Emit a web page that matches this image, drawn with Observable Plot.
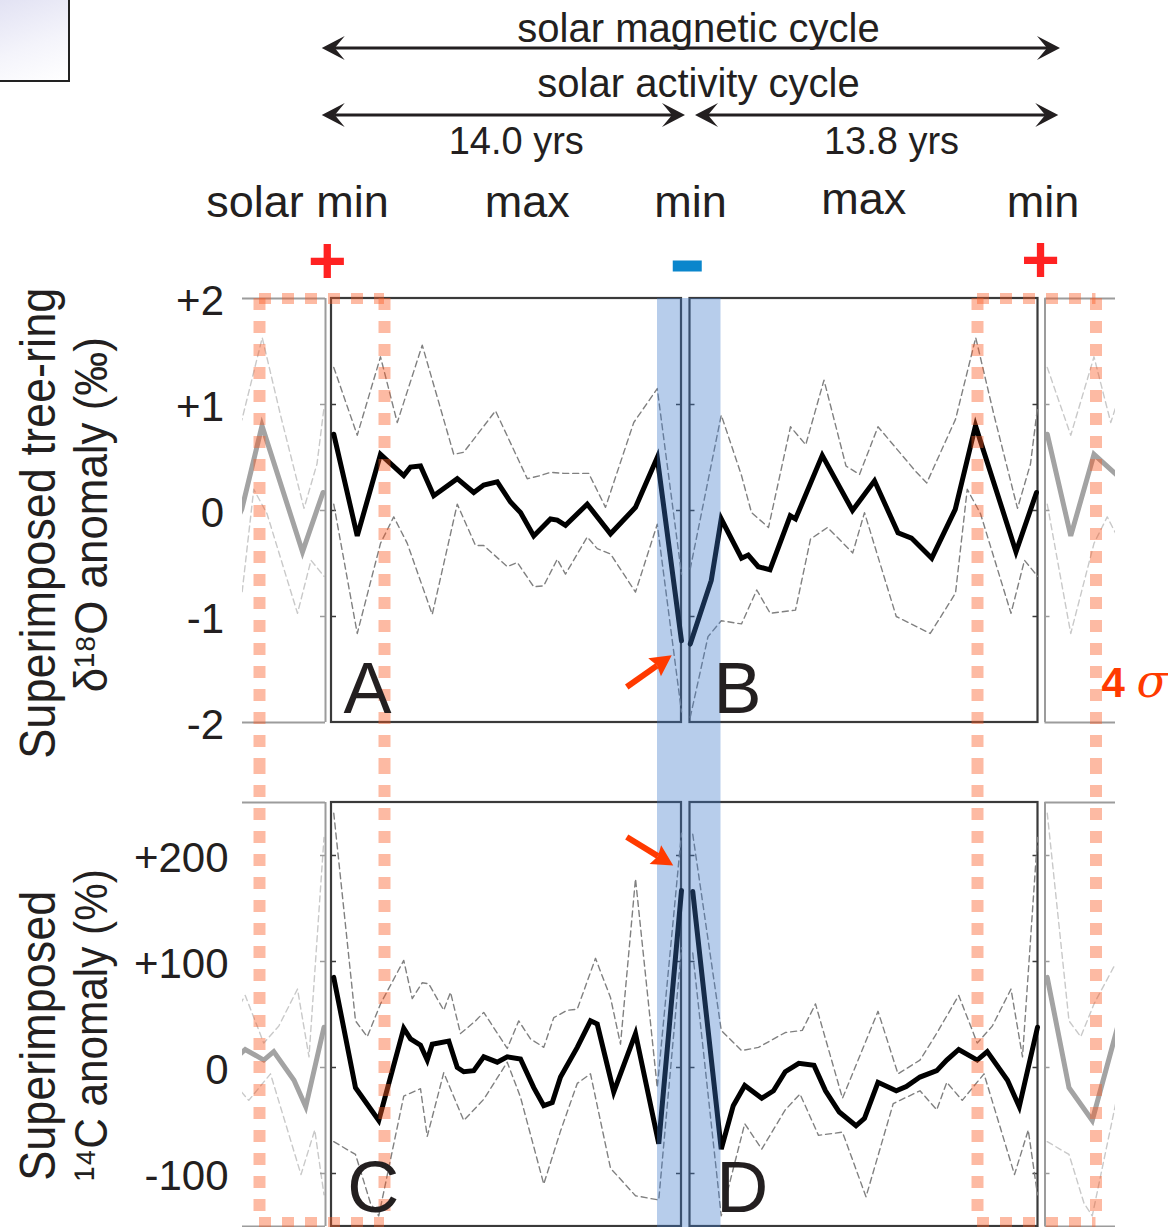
<!DOCTYPE html>
<html><head><meta charset="utf-8">
<script src="https://cdn.jsdelivr.net/npm/d3@7"></script>
<script src="https://cdn.jsdelivr.net/npm/@observablehq/plot@0.6"></script>
<style>
html,body{margin:0;padding:0;background:#fff;}
#fig{position:relative;width:1168px;height:1227px;overflow:hidden;background:#fff;}
#corner{position:absolute;left:-2px;top:-2px;width:68px;height:80px;border:2px solid #222;
  background:linear-gradient(160deg,#e2e2f3 0%,#f4f4fb 55%,#ffffff 100%);}
</style></head>
<body><div id="fig"><div id="corner"></div></div>
<script>
// ================= DATA (years after the first solar minimum) =================
// δ18O anomaly (‰) — cycle A
const o18A_meanYear  = [0.09, 1.03, 1.96, 2.89, 3.16, 3.56, 4.09, 5.03, 5.69, 6.09, 6.63, 7.16, 7.56, 8.09, 8.76, 9.03, 9.36, 10.23, 11.16, 12.16, 13.03, 14.0];
const o18A_mean      = [0.72, -0.24, 0.53, 0.33, 0.41, 0.42, 0.14, 0.30, 0.17, 0.24, 0.27, 0.08, -0.02, -0.24, -0.08, -0.09, -0.14, 0.06, -0.22, 0.03, 0.50, -1.23];
const o18A_upperYear = [0.09, 1.03, 1.96, 2.63, 3.63, 4.89, 5.29, 6.56, 7.83, 8.36, 8.76, 9.29, 10.29, 10.96, 12.09, 13.03, 14.0];
const o18A_upper     = [1.35, 0.71, 1.45, 0.83, 1.56, 0.53, 0.55, 0.94, 0.30, 0.33, 0.36, 0.35, 0.35, 0.03, 0.83, 1.15, -0.60];
const o18A_lowerYear = [0.09, 1.03, 1.96, 2.49, 3.03, 4.03, 5.03, 5.76, 6.09, 7.03, 7.43, 8.09, 8.49, 9.03, 9.36, 10.23, 10.63, 11.16, 12.16, 13.03, 14.0];
const o18A_lower     = [0.06, -1.16, -0.31, -0.06, -0.31, -0.98, 0.06, -0.33, -0.33, -0.53, -0.49, -0.72, -0.71, -0.46, -0.60, -0.25, -0.36, -0.41, -0.77, -0.13, -1.90];
// δ18O anomaly (‰) — cycle B
const o18B_meanYear  = [14.35, 15.19, 15.59, 16.40, 16.67, 17.07, 17.54, 18.35, 18.56, 19.63, 20.84, 21.72, 22.66, 23.20, 24.01, 24.95, 25.76, 27.38, 28.20];
const o18B_mean      = [-1.26, -0.66, -0.08, -0.45, -0.42, -0.53, -0.56, -0.05, -0.08, 0.52, 0.00, 0.28, -0.21, -0.26, -0.45, 0.01, 0.80, -0.39, 0.17];
const o18B_upperYear = [14.35, 15.59, 16.40, 16.80, 17.48, 18.36, 18.97, 19.70, 20.58, 21.12, 21.86, 23.40, 23.81, 24.96, 25.77, 26.49, 27.44, 27.96, 28.24];
const o18B_upper     = [-0.55, 0.90, 0.33, -0.02, -0.16, 0.79, 0.62, 1.23, 0.42, 0.34, 0.79, 0.36, 0.26, 0.86, 1.63, 0.91, 0.02, 0.44, 0.97];
const o18B_lowerYear = [14.35, 15.06, 15.59, 16.40, 17.01, 17.55, 18.56, 19.16, 19.84, 20.85, 21.32, 22.59, 23.95, 24.96, 25.43, 25.96, 27.18, 27.72, 28.24];
const o18B_lower     = [-1.95, -1.19, -1.04, -1.07, -0.75, -0.97, -0.94, -0.27, -0.16, -0.40, -0.02, -1.00, -1.16, -0.78, 0.20, -0.03, -0.97, -0.47, -0.62];

// 14C anomaly (%) — cycle A
const c14A_meanYear  = [0.09, 0.96, 1.89, 2.89, 3.16, 3.56, 3.83, 4.03, 4.69, 5.03, 5.29, 5.69, 6.09, 6.63, 7.03, 7.56, 8.09, 8.49, 8.83, 9.16, 9.83, 10.36, 10.63, 11.29, 12.16, 13.09, 14.0];
const c14A_mean      = [85, -19, -50, 37, 27, 21, 7, 22, 25, 0, -4, -3, 10, 5, 10, 8, -19, -36, -33, -9, 19, 44, 41, -23, 32, -72, 167];
const c14A_upperYear = [0.09, 0.96, 1.43, 1.96, 2.89, 3.23, 3.63, 3.89, 4.49, 4.76, 5.16, 5.76, 6.09, 7.03, 7.49, 7.96, 8.49, 8.89, 9.43, 9.83, 10.56, 11.16, 11.56, 12.16, 13.03, 14.0];
const c14A_upper     = [240, 44, 29, 60, 101, 65, 80, 79, 54, 71, 32, 44, 52, 18, 44, 27, 19, 47, 54, 55, 103, 66, 22, 178, -19, 221];
const c14A_lowerYear = [0.09, 0.96, 1.56, 1.89, 2.89, 3.56, 3.83, 4.49, 5.29, 6.09, 7.03, 7.56, 8.49, 9.16, 9.83, 10.36, 11.16, 12.16, 13.09, 14.0];
const c14A_lower     = [-70, -82, -128, -140, -27, -20, -65, -5, -50, -30, 5, -28, -110, -60, -15, -6, -95, -121, -125, 113];
// 14C anomaly (%) — cycle B
const c14B_meanYear  = [14.45, 15.59, 16.07, 16.53, 17.21, 17.68, 18.15, 18.69, 19.30, 19.76, 20.31, 20.98, 21.32, 21.86, 22.59, 22.99, 23.54, 24.21, 24.61, 25.09, 25.83, 26.23, 27.04, 27.51, 28.24];
const c14B_mean      = [166, -77, -36, -17, -29, -22, -4, 4, 2, -22, -42, -55, -48, -14, -22, -18, -9, -3, 7, 17, 7, 15, -12, -37, 38];
const c14B_upperYear = [14.45, 15.59, 16.40, 17.08, 18.15, 18.83, 19.36, 20.44, 21.86, 22.66, 23.54, 24.15, 25.09, 25.83, 26.43, 27.18, 27.64, 28.24];
const c14B_upper     = [220, 35, 16, 19, 33, 35, 60, -29, 53, -6, 7, 30, 68, 23, 39, 74, 10, 217];
const c14B_lowerYear = [14.45, 15.59, 16.53, 17.21, 18.15, 18.74, 19.48, 20.44, 21.38, 22.47, 23.54, 24.21, 24.61, 25.23, 26.10, 27.32, 27.87, 28.24];
const c14B_lower     = [108, -140, -53, -77, -40, -25, -64, -61, -122, -34, -22, -40, -14, -31, -6, -101, -59, -120];

// tick labels
const o18Ticks = [2, 1, 0, -1, -2];
const c14Ticks = [200, 100, 0, -100];
const fmtSigned = v => v > 0 ? "+" + v : String(v);

// cycle lengths and annotation texts
const cycleLabels   = ["solar magnetic cycle", "solar activity cycle"];
const lengthLabels  = ["14.0 yrs", "13.8 yrs"];
const phaseLabels   = ["solar min", "max", "min", "max", "min"];
const polarity      = ["+", "-", "+"];
const panelLetters  = [["A", "B"], ["C", "D"]];

// ================= LAYOUT (years on x) =================
const W = 1168, PX_PER_YEAR = 25, ORIGIN_PX = 331;
const X_DOMAIN = [-ORIGIN_PX / PX_PER_YEAR, (W - ORIGIN_PX) / PX_PER_YEAR];
const BOX_A = [0, 14.0], BOX_B = [14.34, 28.26];
const WRAP_LEFT = [-3.56, -0.24], WRAP_RIGHT = [28.54, 31.36], WRAP_SHIFT = 28.54;
const FOUR_SIGMA = [[-2.88, 2.12], [25.84, 30.58]];
const MIN_BAND = [13.04, 15.58];
const TICK_LEN = 0.2;
const FONT = "Liberation Sans, Arial, Helvetica, sans-serif";
const INK = "#231f20", FRAME = "#3a3a3a", GFRAME = "#9c9c9c";
const ORANGE = "rgb(250,90,35)", BLUE = "#3c78c8", RED = "#ff3a00";
const TITLE_LENGTHS = {"Superimposed tree-ring": 471, "δ¹⁸O anomaly (‰)": 355, "Superimposed": 290, "¹⁴C anomaly (%)": 312};

const zip = (xs, vs, shift = 0) => xs.map((x, i) => ({x: x + shift, v: vs[i]}));
const fig = document.getElementById("fig");
function mount(svg, top) {
  svg.style.position = "absolute"; svg.style.left = "0px"; svg.style.top = top + "px";
  svg.style.overflow = "visible"; svg.style.background = "none"; svg.style.maxWidth = "none";
  svg.querySelectorAll("text").forEach(t => {
    const L = TITLE_LENGTHS[t.textContent];
    if (L) { t.setAttribute("textLength", L); t.setAttribute("lengthAdjust", "spacingAndGlyphs"); }
  });
  fig.appendChild(svg);
}

// arrows with filled (barbed) heads, drawn through the plot's scales
function arrowMark(specs, {color, width, L, H, N, both}) {
  return (index, scales) => {
    const g = d3.create("svg:g");
    for (const s of specs) {
      const x1 = scales.x(s.x1), y1 = scales.y(s.y1), x2 = scales.x(s.x2), y2 = scales.y(s.y2);
      const len = Math.hypot(x2 - x1, y2 - y1), ux = (x2 - x1) / len, uy = (y2 - y1) / len;
      const nx = -uy, ny = ux;
      const head = (tx, ty, dx, dy) =>
        `M${tx},${ty}L${tx - dx * L + nx * H},${ty - dy * L + ny * H}L${tx - dx * N},${ty - dy * N}L${tx - dx * L - nx * H},${ty - dy * L - ny * H}Z`;
      const sx = both ? x1 + ux * N : x1, sy = both ? y1 + uy * N : y1;
      g.append("line").attr("x1", sx).attr("y1", sy).attr("x2", x2 - ux * N).attr("y2", y2 - uy * N)
        .attr("stroke", color).attr("stroke-width", width);
      g.append("path").attr("d", head(x2, y2, ux, uy)).attr("fill", color);
      if (both) g.append("path").attr("d", head(x1, y1, -ux, -uy)).attr("fill", color);
    }
    return g.node();
  };
}

// ================= HEADER =================
const header = Plot.plot({
  width: W, height: 280, margin: 0,
  x: {domain: X_DOMAIN, range: [0, W], axis: null},
  y: {domain: [0, 280], range: [0, 280], axis: null},
  marks: [
    arrowMark([{x1: -0.37, x2: 29.16, y1: 48, y2: 48}, {x1: -0.37, x2: 14.16, y1: 115, y2: 115}, {x1: 14.56, x2: 29.09, y1: 115, y2: 115}],
      {color: INK, width: 3, L: 23, H: 12, N: 13, both: true}),
    Plot.text(cycleLabels.map((t, i) => ({t, x: 14.68, y: [41.7, 96.7][i]})),
      {x: "x", y: "y", text: "t", fontSize: 40, fontFamily: FONT, fill: INK, lineAnchor: "bottom"}),
    Plot.text(lengthLabels.map((t, i) => ({t, x: [7.39, 22.4][i], y: 153.3})),
      {x: "x", y: "y", text: "t", fontSize: 38, fontFamily: FONT, fill: INK, lineAnchor: "bottom"}),
    Plot.text(phaseLabels.map((t, i) => ({t, x: [-1.36, 7.83, 14.36, 21.29, 28.46][i], y: [216.7, 216.7, 216.7, 213.3, 216.7][i]})),
      {x: "x", y: "y", text: "t", fontSize: 45, fontFamily: FONT, fill: INK, lineAnchor: "bottom"}),
    Plot.text(polarity.filter(p => p === "+").map((t, i) => ({t, x: [-0.17, 28.36][i], y: [282.4, 281.4][i]})),
      {x: "x", y: "y", text: "t", fontSize: 66, fontWeight: "bold", fontFamily: FONT, fill: "#ff2222", lineAnchor: "bottom"}),
    Plot.rect(polarity.filter(p => p === "-"), {x1: () => 13.67, x2: () => 14.83, y1: () => 260.5, y2: () => 271.5, fill: "#0a86cc"})
  ]
});
mount(header, 0);

// ================= PANELS =================
function panel(cfg) {
  const {top, height, yDomain, yRange, frameTop, frameBottom, A, B, ticks, tickLabelX, titles, letterY, extra} = cfg;
  const gray = (box, s, shift) => Plot.plot({
    width: W, height,
    marginLeft: ORIGIN_PX + box[0] * PX_PER_YEAR, marginRight: W - (ORIGIN_PX + box[1] * PX_PER_YEAR),
    marginTop: yRange[1], marginBottom: height - yRange[0],
    x: {domain: box, axis: null}, y: {domain: yDomain, axis: null},
    marks: [
      Plot.line(zip(s.upperYear, s.upper, shift), {x: "x", y: "v", stroke: "#c9c9c9", strokeWidth: 1.4, strokeDasharray: "6,4", clip: true}),
      Plot.line(zip(s.lowerYear, s.lower, shift), {x: "x", y: "v", stroke: "#c9c9c9", strokeWidth: 1.4, strokeDasharray: "6,4", clip: true}),
      Plot.line(zip(s.meanYear, s.mean, shift), {x: "x", y: "v", stroke: "#a3a3a3", strokeWidth: 5, strokeLinejoin: "miter", strokeMiterlimit: 4, clip: true})
    ]
  });
  mount(gray(WRAP_LEFT, B, -WRAP_SHIFT), top);
  mount(gray(WRAP_RIGHT, A, WRAP_SHIFT), top);

  const innerTicks = ticks.filter(v => v > yDomain[0] && v < yDomain[1]);
  const edges = [[BOX_A[0], 1], [BOX_A[1], -1], [BOX_B[0], 1], [BOX_B[1], -1]];
  const gEdges = [[WRAP_LEFT[1], -1], [WRAP_RIGHT[0], 1]];
  const seg = es => es.flatMap(([x, d]) => innerTicks.map(v => ({v, x1: x, x2: x + d * TICK_LEN})));
  const dashed = {x: "x", y: "v", stroke: "#808080", strokeWidth: 1.4, strokeDasharray: "6,4"};
  const mean = {x: "x", y: "v", stroke: "#000", strokeWidth: 5, strokeLinejoin: "miter", strokeMiterlimit: 4};

  const main = Plot.plot({
    width: W, height, marginLeft: 0, marginRight: 0, marginTop: frameTop, marginBottom: frameBottom,
    x: {domain: X_DOMAIN, range: [0, W], axis: null},
    y: {domain: yDomain, range: yRange, axis: null},
    marks: [
      // gray wrap-around boxes (open on the outer side)
      Plot.ruleY(yDomain, {y: d => d, x1: () => WRAP_LEFT[0], x2: () => WRAP_LEFT[1], stroke: GFRAME, strokeWidth: 2}),
      Plot.ruleX([WRAP_LEFT[1]], {x: d => d, y1: () => yDomain[0], y2: () => yDomain[1], stroke: GFRAME, strokeWidth: 2}),
      Plot.ruleY(yDomain, {y: d => d, x1: () => WRAP_RIGHT[0], x2: () => WRAP_RIGHT[1], stroke: GFRAME, strokeWidth: 2}),
      Plot.ruleX([WRAP_RIGHT[0]], {x: d => d, y1: () => yDomain[0], y2: () => yDomain[1], stroke: GFRAME, strokeWidth: 2}),
      Plot.ruleY(seg(gEdges), {y: "v", x1: "x1", x2: "x2", stroke: GFRAME, strokeWidth: 1.5}),
      // cycle boxes
      Plot.rect([BOX_A, BOX_B], {x1: d => d[0], x2: d => d[1], y1: () => yDomain[0], y2: () => yDomain[1], fill: "none", stroke: FRAME, strokeWidth: 2.2}),
      Plot.ruleY(seg(edges), {y: "v", x1: "x1", x2: "x2", stroke: FRAME, strokeWidth: 1.5}),
      // envelopes and superposed mean
      Plot.line(zip(A.upperYear, A.upper), dashed),
      Plot.line(zip(A.lowerYear, A.lower), dashed),
      Plot.line(zip(B.upperYear, B.upper), dashed),
      Plot.line(zip(B.lowerYear, B.lower), dashed),
      Plot.line(zip(A.meanYear, A.mean), mean),
      Plot.line(zip(B.meanYear, B.mean), mean),
      // tick labels
      Plot.text(ticks, {x: () => tickLabelX, y: d => d, text: fmtSigned, textAnchor: "end", dy: 3, fontSize: 42, fontFamily: FONT, fill: INK}),
      // axis titles (rotated)
      Plot.text(titles, {x: d => d.x, y: d => d.y, text: d => d.t, rotate: -90, lineAnchor: "bottom", textAnchor: "middle", fontSize: d => d.size, fontFamily: FONT, fill: INK}),
      // minimum band
      Plot.rect([MIN_BAND], {x1: d => d[0], x2: d => d[1], fill: BLUE, fillOpacity: 0.37, insetBottom: cfg.bandInsetBottom || 0}),
      // 4σ boxes
      Plot.ruleX(FOUR_SIGMA.flat(), {x: d => d, stroke: ORANGE, strokeOpacity: 0.42, strokeWidth: 12, strokeDasharray: "12,11"}),
      Plot.ruleY(FOUR_SIGMA, {y: () => cfg.sigmaEdgeY, x1: d => d[0], x2: d => d[1], stroke: ORANGE, strokeOpacity: 0.42, strokeWidth: 11, strokeDasharray: "12,11"}),
      // panel letters
      Plot.text(cfg.letters.map((t, i) => ({t, x: [cfg.letterX[0], cfg.letterX[1]][i]})),
        {x: "x", y: () => letterY, text: "t", textAnchor: "start", lineAnchor: "bottom", fontSize: 72, fontFamily: FONT, fill: INK}),
      arrowMark([cfg.pointer], {color: RED, width: 6, L: 21, H: 11, N: 18, both: false}),
      ...(extra || [])
    ]
  });
  mount(main, top);
}

panel({
  top: 280, height: 482, yDomain: [-2, 2], yRange: [442, 18], frameTop: 18, frameBottom: 0,
  A: {meanYear: o18A_meanYear, mean: o18A_mean, upperYear: o18A_upperYear, upper: o18A_upper, lowerYear: o18A_lowerYear, lower: o18A_lower},
  B: {meanYear: o18B_meanYear, mean: o18B_mean, upperYear: o18B_upperYear, upper: o18B_upper, lowerYear: o18B_lowerYear, lower: o18B_lower},
  ticks: o18Ticks, tickLabelX: -4.3,
  titles: [{t: "Superimposed tree-ring", x: -11.08, y: -0.12, size: 50}, {t: "δ¹⁸O anomaly (‰)", x: -9.0, y: -0.04, size: 46}],
  letters: panelLetters[0], letterX: [0.48, 15.28], letterY: -1.906,
  sigmaEdgeY: 2,
  pointer: {x1: 11.83, y1: -1.67, x2: 13.63, y2: -1.37},
  extra: [
    Plot.text(["4"], {x: () => 30.8, y: () => -1.764, text: d => d, textAnchor: "start", lineAnchor: "bottom", fontSize: 42, fontWeight: "bold", fontFamily: FONT, fill: RED}),
    Plot.text(["σ"], {x: () => 32.2, y: () => -1.764, text: d => d, textAnchor: "start", lineAnchor: "bottom", fontSize: 46, fontStyle: "italic", fontFamily: "DejaVu Serif, serif", fill: RED})
  ]
});

panel({
  top: 762, height: 465, yDomain: [-150, 250], yRange: [464, 40], frameTop: 0, frameBottom: 5, bandInsetBottom: -6,
  A: {meanYear: c14A_meanYear, mean: c14A_mean, upperYear: c14A_upperYear, upper: c14A_upper, lowerYear: c14A_lowerYear, lower: c14A_lower},
  B: {meanYear: c14B_meanYear, mean: c14B_mean, upperYear: c14B_upperYear, upper: c14B_upper, lowerYear: c14B_lowerYear, lower: c14B_lower},
  ticks: c14Ticks, tickLabelX: -4.12,
  titles: [{t: "Superimposed", x: -11.08, y: 30, size: 50}, {t: "¹⁴C anomaly (%)", x: -9.0, y: 40, size: 46}],
  letters: panelLetters[1], letterX: [0.63, 15.39], letterY: -136.5,
  sigmaEdgeY: -146.2,
  pointer: {x1: 11.83, y1: 217, x2: 13.69, y2: 190}
});
</script></body></html>
